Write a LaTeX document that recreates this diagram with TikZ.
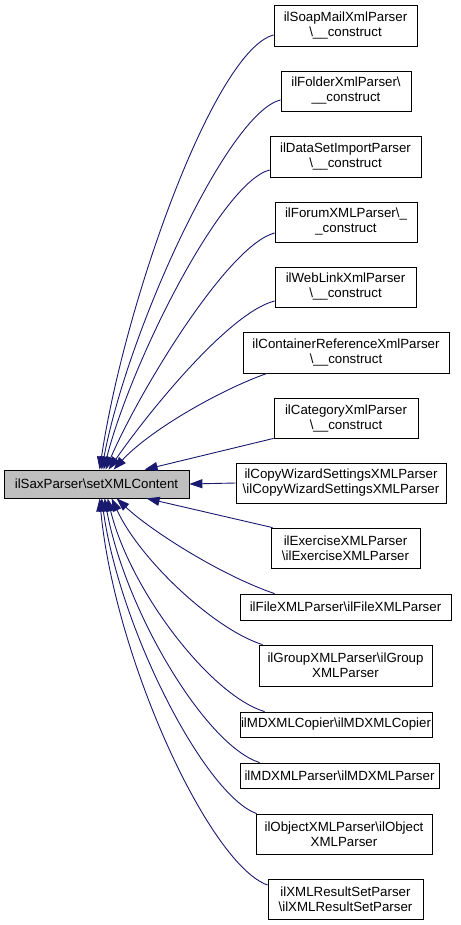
\documentclass[tikz,border=0pt]{standalone}
\usepackage{fontspec}
\setmainfont{Liberation Sans}
\usetikzlibrary{arrows.meta}
\definecolor{edgeblue}{HTML}{191970}
\definecolor{maingray}{HTML}{BFBFBF}
\begin{document}
\begin{tikzpicture}[x=1pt,y=-1pt,
  box/.style={draw=black, fill=white, line width=0.8pt, align=center, inner sep=0pt,
    font=\fontsize{13.3}{15}\selectfont},
  conn/.style={draw=edgeblue, line width=0.9pt, -{Triangle[length=13pt,width=9pt]}}]
\useasboundingbox (0,0) rectangle (460,925);

\node[box, fill=maingray, minimum width=185pt, minimum height=28pt] (main) at (96.5,484) {ilSaxParser\textbackslash setXMLContent};

\node[box, minimum width=143pt, minimum height=41pt] (b1) at (345.5,25.5) {ilSoapMailXmlParser\\\textbackslash\_\_construct};
\node[box, minimum width=130pt, minimum height=40pt] (b2) at (346,91) {ilFolderXmlParser\textbackslash\\\_\_construct};
\node[box, minimum width=151pt, minimum height=41pt] (b3) at (345.5,156.5) {ilDataSetImportParser\\\textbackslash\_\_construct};
\node[box, minimum width=142pt, minimum height=40pt] (b4) at (346,222) {ilForumXMLParser\textbackslash\_\\\_construct};
\node[box, minimum width=141pt, minimum height=40pt] (b5) at (345.5,287) {ilWebLinkXmlParser\\\textbackslash\_\_construct};
\node[box, minimum width=206pt, minimum height=41pt] (b6) at (346,352.5) {ilContainerReferenceXmlParser\\\textbackslash\_\_construct};
\node[box, minimum width=144pt, minimum height=40pt] (b7) at (346,418) {ilCategoryXmlParser\\\textbackslash\_\_construct};
\node[box, minimum width=210pt, minimum height=40pt] (b8) at (341,483) {ilCopyWizardSettingsXMLParser\\\textbackslash ilCopyWizardSettingsXMLParser};
\node[box, minimum width=149pt, minimum height=40pt] (b9) at (345.5,548) {ilExerciseXMLParser\\\textbackslash ilExerciseXMLParser};
\node[box, minimum width=211pt, minimum height=26pt] (b10) at (345.5,607) {ilFileXMLParser\textbackslash ilFileXMLParser};
\node[box, minimum width=173pt, minimum height=41pt] (b11) at (345.5,665.5) {ilGroupXMLParser\textbackslash ilGroup\\XMLParser};
\node[box, minimum width=192pt, minimum height=25pt] (b12) at (336,724.5) {ilMDXMLCopier\textbackslash ilMDXMLCopier};
\node[box, minimum width=199pt, minimum height=25pt] (b13) at (339.5,775.5) {ilMDXMLParser\textbackslash ilMDXMLParser};
\node[box, minimum width=176pt, minimum height=40pt] (b14) at (344,834) {ilObjectXMLParser\textbackslash ilObject\\XMLParser};
\node[box, minimum width=155pt, minimum height=40pt] (b15) at (345.5,899) {ilXMLResultSetParser\\\textbackslash ilXMLResultSetParser};

% edges above
\draw[conn] ([yshift=-9.5pt]b1.west) .. controls (215,50) and (125,300) .. ([xshift=96pt]main.north west);
\draw[conn] ([yshift=-9pt]b2.west) .. controls (228,112) and (128,330) .. ([xshift=98pt]main.north west);
\draw[conn] ([yshift=-13.5pt]b3.west) .. controls (222,182) and (132,360) .. ([xshift=100pt]main.north west);
\draw[conn] ([yshift=-11pt]b4.west) .. controls (228,245) and (140,390) .. ([xshift=102pt]main.north west);
\draw[conn] ([yshift=-14pt]b5.west) .. controls (230,312) and (150,410) .. ([xshift=105pt]main.north west);
\draw[conn] ([xshift=-79pt]b6.south) .. controls (220,390) and (150,430) .. ([xshift=110pt]main.north west);
\draw[conn] (b7.south west) -- ([xshift=141pt]main.north west);
% straight
\draw[conn] (b8.west) -- (main.east);
% edges below
\draw[conn] ([xshift=2pt]b9.north west) -- ([xshift=143pt]main.south west);
\draw[conn] ([xshift=35pt]b10.north west) .. controls (220,575) and (150,530) .. ([xshift=113pt]main.south west);
\draw[conn] ([xshift=4pt]b11.north west) .. controls (215,630) and (140,560) .. ([xshift=108pt]main.south west);
\draw[conn] ([xshift=25pt]b12.north west) .. controls (210,695) and (130,590) .. ([xshift=104pt]main.south west);
\draw[conn] ([xshift=20pt]b13.north west) .. controls (205,745) and (125,610) .. ([xshift=101pt]main.south west);
\draw[conn] ([xshift=1pt]b14.north west) .. controls (205,795) and (120,630) .. ([xshift=98pt]main.south west);
\draw[conn] ([yshift=14pt]b15.west) .. controls (210,865) and (115,660) .. ([xshift=96pt]main.south west);
\end{tikzpicture}
\end{document}
